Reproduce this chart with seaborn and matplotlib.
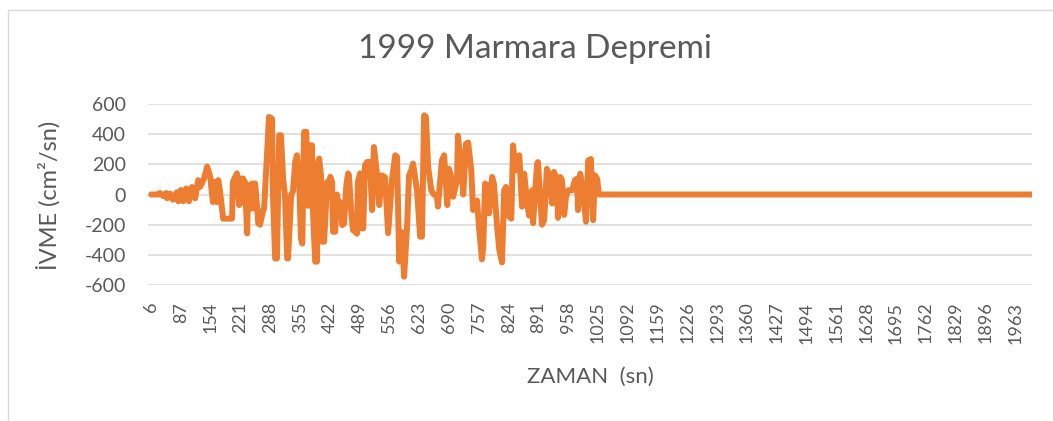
import matplotlib
matplotlib.use("Agg")
import matplotlib.pyplot as plt
import seaborn as sns
import pandas as pd
from matplotlib.patches import Rectangle

# Category index of each read-off sample (x axis is a category axis)
sample_idx = [0, 16, 20, 27, 34, 36, 43, 49, 58, 61, 67, 72, 79, 85, 92, 99, 106, 110,
              119, 126, 133, 137, 139, 144, 148, 151, 155, 162, 182, 184, 193, 198, 202,
              207, 209, 211, 216, 218, 223, 227, 229, 234, 238, 241, 245, 252, 254, 261,
              265, 272, 274, 279, 283, 288, 292, 297, 301, 306, 308, 315, 319, 324, 328,
              333, 337, 340, 344, 349, 353, 358, 362, 364, 369, 373, 376, 378, 382, 385,
              389, 396, 398, 403, 407, 409, 414, 418, 421, 425, 430, 434, 439, 443, 445,
              450, 454, 459, 463, 465, 470, 474, 477, 481, 486, 492, 497, 501, 508, 513,
              519, 526, 533, 542, 549, 553, 558, 564, 569, 576, 580, 585, 589, 598, 605,
              609, 614, 618, 623, 630, 636, 643, 645, 654, 659, 666, 670, 677, 679, 688,
              690, 697, 702, 708, 713, 720, 724, 733, 738, 744, 747, 751, 756, 760, 767,
              771, 778, 783, 789, 794, 798, 803, 810, 814, 819, 823, 828, 834, 839, 846,
              850, 857, 859, 868, 870, 879, 884, 890, 895, 902, 906, 913, 915, 920, 924,
              929, 933, 938, 947, 953, 958, 960, 965, 971, 978, 983, 989, 994, 998, 1003,
              1007, 1980]
ivme = [0, 0, 10, -10, 10, -25, 5, -35, 15, -45, 30, -45, 40, -45, 50, -25, 95, 50,
        105, 185, 117, 0, -50, 84, -50, 95, 20, -160, -160, 84, 140, -70, 106,
        106, -55, 84, -258, 62, -93, 73, -93, 73, -70, -192, -200, -104, -95, 282,
        514, 503, 0, -424, -424, 393, 393, 100, 0, -424, -424, 0, 20, 216, 260,
        84, -290, -325, 415, 415, -75, 326, 326, -110, -445, -445, 216, 238, 128, -313,
        -313, 84, -5, 117, 84, -247, -247, 0, -70, -50, -203, -192, 62, 140, 128,
        -115, -236, -247, -260, 84, 140, -225, -225, 194, 216, 216, -103, 315, 137, -70,
        127, 115, -256, 106, 260, 250, -445, -250, -545, -190, 127, 160, 205, 28, -280,
        -280, 525, 515, 182, 28, 0, -15, -80, 226, 260, -70, 170, 95, -15, 95,
        390, 182, 0, 335, 345, 160, -103, -40, -236, -430, -345, 72, 62, -125, 116,
        70, -210, -365, -450, 28, 50, -140, -160, 325, 160, 250, 260, -80, 138, -60,
        -140, 28, -190, 205, 215, -200, -170, 170, 130, -60, 150, 95, -155, 116, 95,
        -135, -15, 28, 28, 95, 105, -103, 138, 28, -180, 226, 235, -170, 127, 105,
        0, 0]

tick_labels = ["6", "87", "154", "221", "288", "355", "422", "489", "556", "623",
               "690", "757", "824", "891", "958", "1025", "1092", "1159", "1226", "1293",
               "1360", "1427", "1494", "1561", "1628", "1695", "1762", "1829", "1896", "1963"]
tick_step = 67
y_ticks = [-600, -400, -200, 0, 200, 400, 600]

title = "1999 Marmara Depremi"
x_title = "ZAMAN  (sn)"
y_title = "İVME (cm²/sn)"

sns.set_theme(style="white")
plt.rcParams['font.family'] = ['Lato', 'DejaVu Sans']
plt.rcParams['axes.unicode_minus'] = False

text_color = "#595959"
grid_color = "#D9D9D9"
line_color = "#ED7D31"

W, H = 1053, 421
fig = plt.figure(figsize=(W / 100, H / 100), dpi=100)
fig.patch.set_facecolor("white")
ax = fig.add_axes([148 / W, 1 - 285 / H, (1032 - 148) / W, (285 - 104) / H])

df = pd.DataFrame({"idx": sample_idx, "ivme": ivme})
sns.lineplot(data=df, x="idx", y="ivme", ax=ax, color=line_color, linewidth=4.3,
             solid_joinstyle="round", solid_capstyle="round")

ax.set_xlim(-7, 1981)
ax.set_ylim(-600, 600)
ax.set_yticks(y_ticks)
ax.set_yticklabels([str(v) for v in y_ticks])
ax.set_xticks([i * tick_step for i in range(len(tick_labels))])
ax.set_xticklabels(tick_labels, rotation=90)
ax.tick_params(axis="y", length=0, pad=16, labelsize=14, labelcolor=text_color)
ax.tick_params(axis="x", length=0, pad=12, labelsize=13, labelcolor=text_color)
ax.set_xlabel("")
ax.set_ylabel("")
ax.yaxis.grid(True, color=grid_color, linewidth=1.1)
ax.xaxis.grid(False)
ax.set_axisbelow(True)
for s in ax.spines.values():
    s.set_visible(False)

fig.text(535 / W, 1 - 49 / H, title, ha="center", va="center", fontsize=24,
         color=text_color)
fig.text(590 / W, 1 - 377 / H, x_title, ha="center", va="center", fontsize=16,
         color=text_color)
fig.text(48 / W, 1 - 195 / H, y_title, ha="center", va="center", fontsize=17,
         color=text_color, rotation=90)

fig.patches.append(Rectangle((8 / W, -0.05), 1.2, 1 - 10 / H + 0.05,
                             transform=fig.transFigure, fill=False,
                             edgecolor=grid_color, linewidth=1))

fig.savefig("out.png", dpi=100)
